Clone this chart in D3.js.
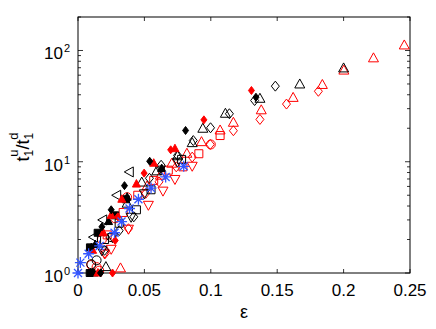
<!DOCTYPE html>
<html>
<head>
<meta charset="utf-8">
<script src="https://cdn.jsdelivr.net/npm/d3@7"></script>
<style>
body{margin:0;background:#fff;}
svg text{font-family:"Liberation Sans",Arial,sans-serif;fill:#000;}
</style>
</head>
<body>
<svg id="chart" width="436" height="329"></svg>
<script>
// data (eps, t1u/t1d)
const redTriUp = [[0.2457,111],[0.2225,85],[0.2002,66],[0.184,49],[0.162,37.5],[0.138,29],[0.117,22.4],[0.107,19.1],[0.093,15],[0.082,11.8],[0.0706,9.6],[0.062,7.5],[0.052,6],[0.032,1.1]];
const redDiaOpen = [[0.181,43],[0.157,33],[0.137,24],[0.117,19],[0.0996,14.3],[0.086,11],[0.074,9],[0.061,6.6],[0.051,5.2],[0.038,2.5],[0.0205,1.5]];
const redSquare = [[0.107,17.2],[0.091,11.8],[0.079,9],[0.068,8.4],[0.057,6.8],[0.045,5],[0.034,3.5],[0.022,2.2]];
const redTriDown = [[0.086,9.2],[0.073,7],[0.064,5.5],[0.053,4.1],[0.038,2.5],[0.025,1.65],[0.02,1.5]];
const redCircle = [[0.1,14.3],[0.037,4.8],[0.028,3.1],[0.018,2],[0.014,1.13],[0.01,1.18],[0.016,1.05]];
const redDiaFill = [[0.1306,43.7],[0.0948,23.8],[0.0698,12.8],[0.0498,7.9],[0.03,3.2],[0.028,1.96],[0.026,1.0]];
const redTriFill = [[0.073,13.1],[0.057,9.7],[0.044,6.3],[0.033,4.6],[0.025,3.3],[0.019,2.3],[0.011,1.6],[0.015,1.0]];
const blkDiaFill = [[0.134,38],[0.081,19.1],[0.054,10.1],[0.035,6.1],[0.025,3.7],[0.018,2.6],[0.01,1.7],[0.017,1.0]];
const blkTriUp = [[0.2,69],[0.167,49.5],[0.137,36.8],[0.111,27],[0.094,19.8],[0.086,14.7],[0.075,11.2],[0.0593,8.2],[0.048,6.5],[0.037,4.2],[0.021,1.13]];
const blkDiaOpen = [[0.1486,47.8],[0.133,35.5],[0.114,27],[0.0998,20.2],[0.0868,15.5],[0.075,11.4],[0.0626,9.3],[0.0538,7.1],[0.042,3.2],[0.031,2.4],[0.02,1.6]];
const blkTriLeft = [[0.039,8.1],[0.0295,5],[0.019,3],[0.012,2.1]];
const blkSquareFill = [[0.036,4.6],[0.028,3.3],[0.0148,2.3],[0.009,1.7],[0.0088,1.0]];
const blkTriFill = [[0.063,8.7],[0.037,4.8],[0.023,2.9],[0.013,1.8],[0.012,1.0]];
const blkSquare = [[0.078,10.5],[0.055,5.6],[0.044,3.7],[0.031,2.8],[0.02,2.0]];
const blkCircle = [[0.014,1.3],[0.01,1.2],[0.025,2.1]];
const blkTriDown = [[0.075,10],[0.062,8.5],[0.05,5.2],[0.04,3.2],[0.026,2.1],[0.018,1.6]];
const blueStar = [[0.0796,9.1],[0.066,7.3],[0.055,5.8],[0.0455,4.6],[0.0388,3.8],[0.0328,2.9],[0.0275,2.3],[0.0163,1.75],[0.008,1.49],[0.0018,1.24],[0,1]];

const xTicks = [0,0.05,0.1,0.15,0.2,0.25];
const xTickLabels = ['0','0.05','0.1','0.15','0.2','0.25'];
const yTicks = [1,10,100];
const yTickExp = ['0','1','2'];

const RED = '#ff0000', BLK = '#000000', BLUE = '#3355ff';
const series = [
  {d: redTriDown, shape:'tdown', c:RED, fill:false},
  {d: redSquare, shape:'square', c:RED, fill:false},
  {d: redCircle, shape:'circle', c:RED, fill:false},
  {d: redDiaOpen, shape:'diamond', c:RED, fill:false},
  {d: redTriUp, shape:'tup', c:RED, fill:false},
  {d: blkTriDown, shape:'tdown', c:BLK, fill:false},
  {d: blkSquare, shape:'square', c:BLK, fill:false},
  {d: blkCircle, shape:'circle', c:BLK, fill:false},
  {d: blkTriLeft, shape:'tleft', c:BLK, fill:false},
  {d: blkDiaOpen, shape:'diamond', c:BLK, fill:false},
  {d: blkTriUp, shape:'tup', c:BLK, fill:false},
  {d: blkSquareFill, shape:'squareS', c:BLK, fill:true},
  {d: blkTriFill, shape:'tupS', c:BLK, fill:true},
  {d: redTriFill, shape:'tupS', c:RED, fill:true},
  {d: blkDiaFill, shape:'diamondS', c:BLK, fill:true},
  {d: redDiaFill, shape:'diamondS', c:RED, fill:true},
  {d: blueStar, shape:'star', c:BLUE, fill:false}
];

const M = {l:78, r:410, t:17, b:273};
const svg = d3.select('#chart');
const x = d3.scaleLinear().domain([0,0.25]).range([M.l, M.r]);
const y = d3.scaleLog().domain([1,200]).range([M.b, M.t]);

function shapePath(s){
  switch(s){
    case 'tup': return 'M0,-5.5L5,3.5L-5,3.5Z';
    case 'tdown': return 'M0,5.5L5,-3.5L-5,-3.5Z';
    case 'tleft': return 'M-5.5,0L3.5,-5L3.5,5Z';
    case 'tupS': return 'M0,-4.5L4,3L-4,3Z';
    case 'diamond': return 'M0,-5L4,0L0,5L-4,0Z';
    case 'diamondS': return 'M0,-4L3,0L0,4L-3,0Z';
    case 'square': return 'M-4,-4H4V4H-4Z';
    case 'squareS': return 'M-3.5,-3.5H3.5V3.5H-3.5Z';
    case 'circle': return 'M4.5,0A4.5,4.5 0 1,1 -4.5,0A4.5,4.5 0 1,1 4.5,0Z';
    case 'star': return 'M-5.5,0H5.5M0,-5.5V5.5M-4,-4L4,4M-4,4L4,-4';
  }
}

// frame
svg.append('rect').attr('x',M.l).attr('y',M.t).attr('width',M.r-M.l).attr('height',M.b-M.t)
  .attr('fill','none').attr('stroke','#000').attr('stroke-width',1);

const ticks = svg.append('g').attr('stroke','#000').attr('stroke-width',0.8);
xTicks.forEach(v => {
  ticks.append('line').attr('x1',x(v)).attr('x2',x(v)).attr('y1',M.b).attr('y2',M.b-4);
  ticks.append('line').attr('x1',x(v)).attr('x2',x(v)).attr('y1',M.t).attr('y2',M.t+4);
});
y.ticks().forEach(v => {
  const major = yTicks.includes(v);
  const len = major ? 5 : 3;
  ticks.append('line').attr('x1',M.l).attr('x2',M.l+len).attr('y1',y(v)).attr('y2',y(v));
  ticks.append('line').attr('x1',M.r).attr('x2',M.r-len).attr('y1',y(v)).attr('y2',y(v));
});

// tick labels
xTicks.forEach((v,i) => {
  svg.append('text').attr('x',x(v)).attr('y',296).attr('text-anchor','middle')
    .style('font-size','17px').text(xTickLabels[i]);
});
yTicks.forEach((v,i) => {
  svg.append('text').attr('x',63).attr('y',y(v)+9).attr('text-anchor','end').style('font-size','17px').text('10');
  svg.append('text').attr('x',64).attr('y',y(v)+2).style('font-size','11px').text(yTickExp[i]);
});

// axis labels
svg.append('text').attr('x',244).attr('y',318).attr('text-anchor','middle').style('font-size','18px').text('ε');
const yl = svg.append('text').attr('transform','translate(29,147) rotate(-90)').attr('text-anchor','middle').style('font-size','18px');
yl.append('tspan').text('t');
yl.append('tspan').attr('dy',4).style('font-size','12px').text('1');
yl.append('tspan').attr('dx',-7).attr('dy',-15).style('font-size','13px').text('u');
yl.append('tspan').attr('dy',11).text('/t');
yl.append('tspan').attr('dy',4).style('font-size','12px').text('1');
yl.append('tspan').attr('dx',-7).attr('dy',-15).style('font-size','13px').text('d');

// markers
const plot = svg.append('g');
series.forEach(s => {
  plot.selectAll(null).data(s.d).enter().append('path')
    .attr('transform', d => `translate(${x(d[0])},${y(d[1])})`)
    .attr('d', shapePath(s.shape))
    .attr('fill', s.fill ? s.c : 'none')
    .attr('stroke', s.c)
    .attr('stroke-width', s.shape==='star' ? 1.3 : 1);
});
</script>
</body>
</html>
